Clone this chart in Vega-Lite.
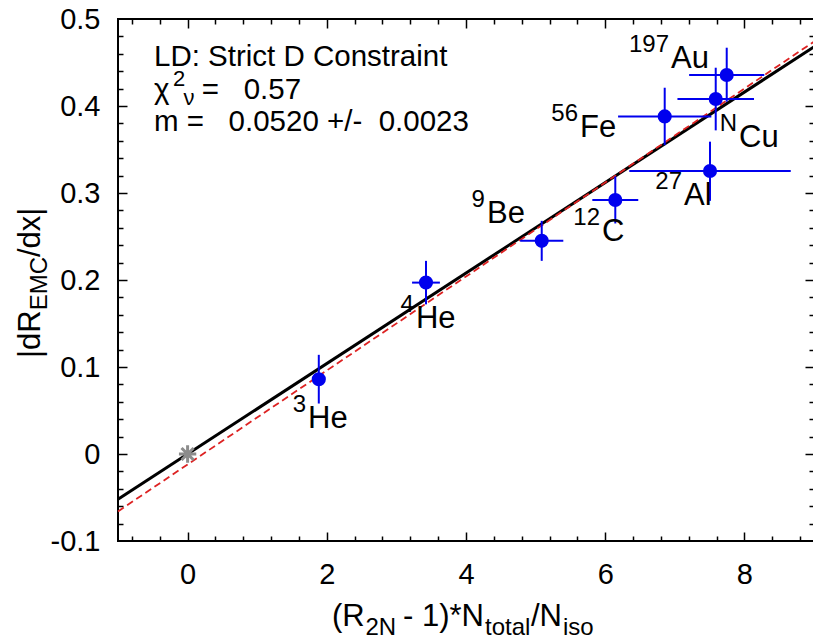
{
  "$schema": "https://vega.github.io/schema/vega-lite/v6.json",
  "width": 696,
  "height": 522,
  "autosize": {"type": "none"},
  "padding": {"left": 118, "top": 19, "right": 0, "bottom": 98},
  "background": "white",
  "view": {"stroke": "black", "strokeWidth": 2},
  "config": {
    "font": "Liberation Sans",
    "axis": {
      "grid": false, "domain": false,
      "labelFont": "Liberation Sans", "labelFontSize": 29, "labelColor": "black",
      "tickColor": "black", "tickWidth": 1.5,
      "labelFlush": false, "labelOverlap": false, "labelBound": false
    },
    "text": {"font": "Liberation Sans", "color": "black", "baseline": "alphabetic"}
  },
  "datasets": {
    "pts": [
      {"nucleus": "3He", "x": 1.885, "y": 0.0859, "xlo": 1.84, "xhi": 1.93, "ylo": 0.058, "yhi": 0.114},
      {"nucleus": "4He", "x": 3.425, "y": 0.197, "xlo": 3.225, "xhi": 3.625, "ylo": 0.172, "yhi": 0.222},
      {"nucleus": "9Be", "x": 5.088, "y": 0.245, "xlo": 4.778, "xhi": 5.398, "ylo": 0.222, "yhi": 0.268},
      {"nucleus": "12C", "x": 6.145, "y": 0.292, "xlo": 5.815, "xhi": 6.475, "ylo": 0.265, "yhi": 0.319},
      {"nucleus": "56Fe", "x": 6.855, "y": 0.388, "xlo": 6.185, "xhi": 7.525, "ylo": 0.355, "yhi": 0.421},
      {"nucleus": "27Al", "x": 7.506, "y": 0.3253, "xlo": 6.346, "xhi": 8.666, "ylo": 0.291, "yhi": 0.359},
      {"nucleus": "NCu", "x": 7.588, "y": 0.408, "xlo": 7.038, "xhi": 8.138, "ylo": 0.372, "yhi": 0.444},
      {"nucleus": "197Au", "x": 7.746, "y": 0.4356, "xlo": 7.206, "xhi": 8.286, "ylo": 0.405, "yhi": 0.467}
    ],
    "fitb": [{"x": -1, "y": -0.052}, {"x": 9, "y": 0.468}],
    "fitr": [{"x": -1, "y": -0.066}, {"x": 9, "y": 0.474}],
    "star": [{"x": 0, "y": 0}],
    "labels": [
      {"sup": "197", "main": "Au", "lx": 6.931, "ly": 0.4437},
      {"sup": "56", "main": "Fe", "lx": 5.624, "ly": 0.3644},
      {"sup": "N", "main": "Cu", "lx": 7.908, "ly": 0.3532},
      {"sup": "27", "main": "Al", "lx": 7.118, "ly": 0.2862},
      {"sup": "12", "main": "C", "lx": 5.94, "ly": 0.2452},
      {"sup": "9", "main": "Be", "lx": 4.287, "ly": 0.2652},
      {"sup": "4", "main": "He", "lx": 3.267, "ly": 0.1448},
      {"sup": "3", "main": "He", "lx": 1.716, "ly": 0.0295}
    ],
    "texts": [
      {"t": "LD: Strict D Constraint", "role": "big", "x": -0.483, "y": 0.446},
      {"t": "χ", "role": "big", "x": -0.483, "y": 0.408},
      {"t": "2", "role": "small", "x": -0.21, "y": 0.4225},
      {"t": "ν", "role": "small", "x": -0.06, "y": 0.401},
      {"t": "=\u00a0\u00a0\u00a00.57", "role": "big", "x": 0.205, "y": 0.408},
      {"t": "m\u00a0=\u00a0\u00a0\u00a00.0520\u00a0+/-\u00a0\u00a00.0023", "role": "big", "x": -0.483, "y": 0.3713},
      {"t": "(R", "role": "title", "x": 2.075, "y": -0.198},
      {"t": "2N", "role": "tsub", "x": 2.556, "y": -0.2083},
      {"t": "- 1)*N", "role": "title", "x": 3.095, "y": -0.198},
      {"t": "total", "role": "tsub", "x": 4.273, "y": -0.2083},
      {"t": "/N", "role": "title", "x": 4.934, "y": -0.198},
      {"t": "iso", "role": "tsub", "x": 5.394, "y": -0.2083}
    ],
    "ytexts": [
      {"t": "|dR", "role": "title", "x": -2.121, "y": 0.1103},
      {"t": "EMC", "role": "tsub", "x": -2.013, "y": 0.1652},
      {"t": "/dx|", "role": "title", "x": -2.121, "y": 0.2264}
    ]
  },
  "layer": [
    {
      "data": {"name": "fitb"},
      "mark": {"type": "line", "color": "black", "strokeWidth": 3},
      "encoding": {
        "x": {"field": "x", "type": "quantitative", "scale": {"domain": [-1, 9], "nice": false, "zero": false},
              "axis": {"orient": "bottom", "values": [0, 2, 4, 6, 8], "ticks": false, "labelPadding": 19, "title": null}},
        "y": {"field": "y", "type": "quantitative", "scale": {"domain": [-0.1, 0.5], "nice": false, "zero": false},
              "axis": {"orient": "left", "values": [-0.1, 0, 0.1, 0.2, 0.3, 0.4, 0.5], "ticks": false, "labelPadding": 18, "title": null,
                       "labelExpr": "datum.value < 0 ? '-' + format(-datum.value, '~g') : format(datum.value, '~g')"}}
      }
    },
    {
      "data": {"name": "fitr"},
      "mark": {"type": "line", "color": "#dd2222", "strokeWidth": 1.8, "strokeDash": [7, 4]},
      "encoding": {
        "x": {"field": "x", "type": "quantitative", "scale": {"domain": [-1, 9], "nice": false, "zero": false},
              "axis": {"orient": "bottom", "values": [0, 2, 4, 6, 8], "labels": false, "tickSize": 9, "offset": -9, "title": null}},
        "y": {"field": "y", "type": "quantitative", "scale": {"domain": [-0.1, 0.5], "nice": false, "zero": false},
              "axis": {"orient": "left", "values": [0, 0.1, 0.2, 0.3, 0.4], "labels": false, "tickSize": 9, "offset": -9, "title": null}}
      }
    },
    {
      "data": {"name": "pts"},
      "mark": {"type": "rule", "color": "#0000ee", "strokeWidth": 2},
      "encoding": {
        "x": {"field": "xlo", "type": "quantitative", "scale": {"domain": [-1, 9], "nice": false, "zero": false},
              "axis": {"orient": "bottom", "values": [-0.8, -0.4, 0.4, 0.8, 1.2, 1.6, 2.4, 2.8, 3.2, 3.6, 4.4, 4.8, 5.2, 5.6, 6.4, 6.8, 7.2, 7.6, 8.4, 8.8], "labels": false, "tickSize": 5, "offset": -5, "title": null}},
        "x2": {"field": "xhi"},
        "y": {"field": "y", "type": "quantitative", "scale": {"domain": [-0.1, 0.5], "nice": false, "zero": false},
              "axis": {"orient": "left", "values": [-0.08, -0.06, -0.04, -0.02, 0.02, 0.04, 0.06, 0.08, 0.12, 0.14, 0.16, 0.18, 0.22, 0.24, 0.26, 0.28, 0.32, 0.34, 0.36, 0.38, 0.42, 0.44, 0.46, 0.48], "labels": false, "tickSize": 5, "offset": -5, "title": null}}
      }
    },
    {
      "data": {"name": "pts"},
      "mark": {"type": "rule", "color": "#0000ee", "strokeWidth": 2},
      "encoding": {
        "x": {"field": "x", "type": "quantitative", "scale": {"domain": [-1, 9], "nice": false, "zero": false},
              "axis": {"orient": "top", "values": [0, 2, 4, 6, 8], "labels": false, "tickSize": 9, "offset": -9, "title": null}},
        "y": {"field": "ylo", "type": "quantitative", "scale": {"domain": [-0.1, 0.5], "nice": false, "zero": false},
              "axis": {"orient": "right", "values": [0, 0.1, 0.2, 0.3, 0.4], "labels": false, "tickSize": 9, "offset": -9, "title": null}},
        "y2": {"field": "yhi"}
      }
    },
    {
      "data": {"name": "pts"},
      "mark": {"type": "point", "shape": "circle", "filled": true, "color": "#0000ee", "size": 200, "opacity": 1},
      "encoding": {
        "x": {"field": "x", "type": "quantitative", "scale": {"domain": [-1, 9], "nice": false, "zero": false},
              "axis": {"orient": "top", "values": [-0.8, -0.4, 0.4, 0.8, 1.2, 1.6, 2.4, 2.8, 3.2, 3.6, 4.4, 4.8, 5.2, 5.6, 6.4, 6.8, 7.2, 7.6, 8.4, 8.8], "labels": false, "tickSize": 5, "offset": -5, "title": null}},
        "y": {"field": "y", "type": "quantitative", "scale": {"domain": [-0.1, 0.5], "nice": false, "zero": false},
              "axis": {"orient": "right", "values": [-0.08, -0.06, -0.04, -0.02, 0.02, 0.04, 0.06, 0.08, 0.12, 0.14, 0.16, 0.18, 0.22, 0.24, 0.26, 0.28, 0.32, 0.34, 0.36, 0.38, 0.42, 0.44, 0.46, 0.48], "labels": false, "tickSize": 5, "offset": -5, "title": null}}
      }
    },
    {
      "data": {"name": "star"},
      "mark": {"type": "point", "shape": "M-1,0L1,0M0,-1L0,1M-0.7,-0.7L0.7,0.7M-0.7,0.7L0.7,-0.7", "filled": false, "color": "#8c8c8c", "strokeWidth": 3, "size": 300, "opacity": 1},
      "encoding": {
        "x": {"field": "x", "type": "quantitative", "scale": {"domain": [-1, 9], "nice": false, "zero": false}, "axis": null},
        "y": {"field": "y", "type": "quantitative", "scale": {"domain": [-0.1, 0.5], "nice": false, "zero": false}, "axis": null}
      }
    },
    {
      "data": {"name": "labels"},
      "mark": {"type": "text", "align": "right", "baseline": "alphabetic", "fontSize": 24, "dx": -1, "dy": -16},
      "encoding": {
        "x": {"field": "lx", "type": "quantitative", "scale": {"domain": [-1, 9], "nice": false, "zero": false}, "axis": null},
        "y": {"field": "ly", "type": "quantitative", "scale": {"domain": [-0.1, 0.5], "nice": false, "zero": false}, "axis": null},
        "text": {"field": "sup"}
      }
    },
    {
      "data": {"name": "labels"},
      "mark": {"type": "text", "align": "left", "baseline": "alphabetic", "fontSize": 31, "dx": 1},
      "encoding": {
        "x": {"field": "lx", "type": "quantitative", "scale": {"domain": [-1, 9], "nice": false, "zero": false}, "axis": null},
        "y": {"field": "ly", "type": "quantitative", "scale": {"domain": [-0.1, 0.5], "nice": false, "zero": false}, "axis": null},
        "text": {"field": "main"}
      }
    },
    {
      "data": {"name": "texts"},
      "transform": [{"filter": "datum.role === 'big'"}],
      "mark": {"type": "text", "align": "left", "baseline": "alphabetic", "fontSize": 29.5},
      "encoding": {
        "x": {"field": "x", "type": "quantitative", "scale": {"domain": [-1, 9], "nice": false, "zero": false}, "axis": null},
        "y": {"field": "y", "type": "quantitative", "scale": {"domain": [-0.1, 0.5], "nice": false, "zero": false}, "axis": null},
        "text": {"field": "t"}
      }
    },
    {
      "data": {"name": "texts"},
      "transform": [{"filter": "datum.role === 'small'"}],
      "mark": {"type": "text", "align": "left", "baseline": "alphabetic", "fontSize": 22},
      "encoding": {
        "x": {"field": "x", "type": "quantitative", "scale": {"domain": [-1, 9], "nice": false, "zero": false}, "axis": null},
        "y": {"field": "y", "type": "quantitative", "scale": {"domain": [-0.1, 0.5], "nice": false, "zero": false}, "axis": null},
        "text": {"field": "t"}
      }
    },
    {
      "data": {"name": "texts"},
      "transform": [{"filter": "datum.role === 'title'"}],
      "mark": {"type": "text", "align": "left", "baseline": "alphabetic", "fontSize": 31},
      "encoding": {
        "x": {"field": "x", "type": "quantitative", "scale": {"domain": [-1, 9], "nice": false, "zero": false}, "axis": null},
        "y": {"field": "y", "type": "quantitative", "scale": {"domain": [-0.1, 0.5], "nice": false, "zero": false}, "axis": null},
        "text": {"field": "t"}
      }
    },
    {
      "data": {"name": "texts"},
      "transform": [{"filter": "datum.role === 'tsub'"}],
      "mark": {"type": "text", "align": "left", "baseline": "alphabetic", "fontSize": 24},
      "encoding": {
        "x": {"field": "x", "type": "quantitative", "scale": {"domain": [-1, 9], "nice": false, "zero": false}, "axis": null},
        "y": {"field": "y", "type": "quantitative", "scale": {"domain": [-0.1, 0.5], "nice": false, "zero": false}, "axis": null},
        "text": {"field": "t"}
      }
    },
    {
      "data": {"name": "ytexts"},
      "transform": [{"filter": "datum.role === 'title'"}],
      "mark": {"type": "text", "align": "left", "baseline": "alphabetic", "angle": 270, "fontSize": 31},
      "encoding": {
        "x": {"field": "x", "type": "quantitative", "scale": {"domain": [-1, 9], "nice": false, "zero": false}, "axis": null},
        "y": {"field": "y", "type": "quantitative", "scale": {"domain": [-0.1, 0.5], "nice": false, "zero": false}, "axis": null},
        "text": {"field": "t"}
      }
    },
    {
      "data": {"name": "ytexts"},
      "transform": [{"filter": "datum.role === 'tsub'"}],
      "mark": {"type": "text", "align": "left", "baseline": "alphabetic", "angle": 270, "fontSize": 24},
      "encoding": {
        "x": {"field": "x", "type": "quantitative", "scale": {"domain": [-1, 9], "nice": false, "zero": false}, "axis": null},
        "y": {"field": "y", "type": "quantitative", "scale": {"domain": [-0.1, 0.5], "nice": false, "zero": false}, "axis": null},
        "text": {"field": "t"}
      }
    }
  ],
  "resolve": {"axis": {"x": "independent", "y": "independent"}}
}
